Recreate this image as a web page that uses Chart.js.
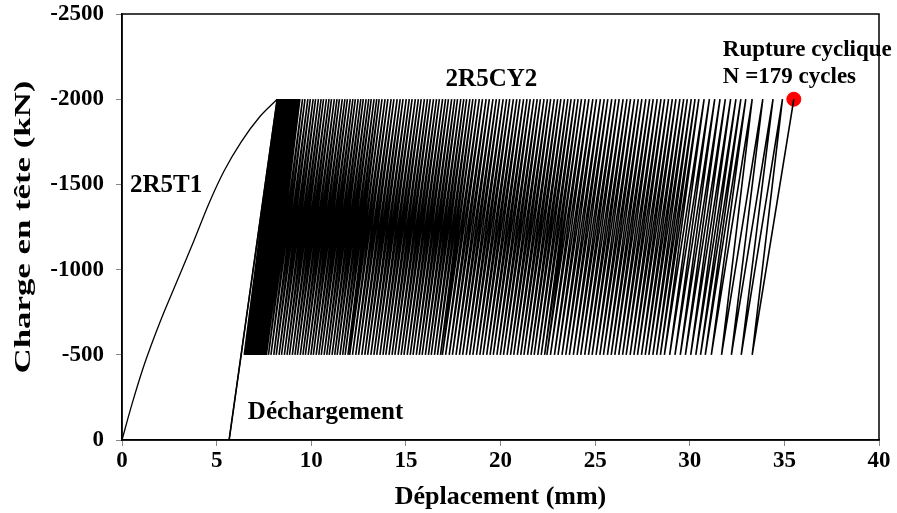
<!DOCTYPE html>
<html>
<head>
    <title>Charge - Deplacement</title>
    <script src="https://cdn.jsdelivr.net/npm/chart.js"></script>
    <style>
        body { margin: 0; background: #fff; }
    </style>
</head>
<body>
    <canvas id="chart" width="897" height="513"></canvas>
    <script>
        // essai monotone 2R5T1 (mm, kN)
        const monoX = [0, 0.5, 1.2, 2.0, 2.9, 3.8, 4.6, 5.4, 6.3, 7.3, 8.2];
        const monoY = [0, -200, -450, -690, -930, -1170, -1390, -1580, -1750, -1900, -2000];

        // dechargement
        const unloadX = [8.2, 5.66];
        const unloadY = [-2000, 0];

        // essai cyclique 2R5CY2 : pics a -2000 kN, creux a -500 kN
        const cycleTop = -2000;
        const cycleBottom = -500;
        const reloadStartX = 5.66;
        const peakX = [
            8.20, 8.23, 8.26, 8.29, 8.32, 8.35, 8.38, 8.41, 8.44, 8.47, 8.50, 8.53, 8.56, 8.59, 8.62, 8.65, 8.68, 8.71, 8.74, 8.77,
            8.80, 8.83, 8.86, 8.89, 8.92, 8.95, 8.98, 9.01, 9.04, 9.07, 9.10, 9.13, 9.16, 9.19, 9.22, 9.25, 9.28, 9.31, 9.34, 9.37, 9.40,
            9.54, 9.67, 9.82, 9.95, 10.10, 10.23, 10.38, 10.52, 10.65, 10.80, 10.94, 11.07, 11.22, 11.36, 11.49, 11.64, 11.78, 11.91,
            12.06, 12.20, 12.33, 12.48, 12.62, 12.75, 12.90, 13.04, 13.17, 13.32, 13.46, 13.59, 13.74,
            13.90, 14.05, 14.22, 14.37, 14.54, 14.70, 14.85, 15.02, 15.18, 15.33, 15.50, 15.66, 15.81, 15.98, 16.14, 16.29,
            16.46, 16.62, 16.77, 16.94, 17.10, 17.25, 17.42, 17.58, 17.73, 17.90, 18.06, 18.21, 18.38, 18.54, 18.70,
            18.88, 19.05, 19.24, 19.41, 19.60, 19.78, 19.95, 20.14, 20.32, 20.49, 20.68, 20.86, 21.03, 21.22, 21.40, 21.57,
            21.76, 21.94, 22.11, 22.30, 22.48, 22.65, 22.84, 23.02, 23.19, 23.38, 23.56, 23.73, 23.92, 24.10, 24.28,
            24.48, 24.67, 24.88, 25.07, 25.28, 25.48, 25.67, 25.88, 26.08, 26.27, 26.48, 26.68, 26.87, 27.08, 27.28, 27.47,
            27.68, 27.88, 28.07, 28.28, 28.48, 28.67, 28.88, 29.08, 29.27, 29.48, 29.68, 29.87, 30.08, 30.28, 30.48,
            30.76, 31.04, 31.32, 31.60, 31.88, 32.16, 32.44, 32.70, 32.96, 33.30, 33.86, 34.40, 34.90, 35.50
        ];
        const valleyX = [
            6.46, 6.49, 6.52, 6.55, 6.58, 6.61, 6.64, 6.67, 6.70, 6.73, 6.76, 6.79, 6.82, 6.85, 6.88, 6.91, 6.94, 6.97, 7.00, 7.03,
            7.06, 7.09, 7.12, 7.15, 7.18, 7.21, 7.24, 7.27, 7.30, 7.33, 7.36, 7.39, 7.42, 7.45, 7.48, 7.51, 7.54, 7.57, 7.60, 7.63,
            7.74, 7.87, 8.02, 8.15, 8.30, 8.43, 8.58, 8.72, 8.85, 9.00, 9.14, 9.27, 9.42, 9.56, 9.69, 9.84, 9.98, 10.11,
            10.26, 10.40, 10.53, 10.68, 10.82, 10.95, 11.10, 11.24, 11.37, 11.52, 11.66, 11.79, 11.94,
            12.03, 12.18, 12.35, 12.50, 12.67, 12.83, 12.98, 13.15, 13.31, 13.46, 13.63, 13.79, 13.94, 14.11, 14.27, 14.42,
            14.59, 14.75, 14.90, 15.07, 15.23, 15.38, 15.55, 15.71, 15.86, 16.03, 16.19, 16.34, 16.51, 16.67, 16.83,
            16.93, 17.10, 17.29, 17.46, 17.65, 17.83, 18.00, 18.19, 18.37, 18.54, 18.73, 18.91, 19.08, 19.27, 19.45, 19.62,
            19.81, 19.99, 20.16, 20.35, 20.53, 20.70, 20.89, 21.07, 21.24, 21.43, 21.61, 21.78, 21.97, 22.15, 22.33,
            22.45, 22.64, 22.85, 23.04, 23.25, 23.45, 23.64, 23.85, 24.05, 24.24, 24.45, 24.65, 24.84, 25.05, 25.25, 25.44,
            25.65, 25.85, 26.04, 26.25, 26.45, 26.64, 26.85, 27.05, 27.24, 27.45, 27.65, 27.84, 28.05, 28.25, 28.45,
            28.66, 28.94, 29.22, 29.50, 29.77, 30.05, 30.32, 30.57, 30.82, 31.14, 31.68, 32.20, 32.72, 33.30
        ];

        // rupture
        const ruptureX = [35.5];
        const ruptureY = [-2000];

        const xTicks = [0, 5, 10, 15, 20, 25, 30, 35, 40];
        const yTicks = [0, -500, -1000, -1500, -2000, -2500];

        const monoPts = monoX.map((x, i) => ({ x: x, y: monoY[i] }));
        const unloadPts = unloadX.map((x, i) => ({ x: x, y: unloadY[i] }));
        const cyclePts = [{ x: reloadStartX, y: 0 }];
        peakX.forEach((x, i) => {
            cyclePts.push({ x: x, y: cycleTop });
            if (i < valleyX.length) cyclePts.push({ x: valleyX[i], y: cycleBottom });
        });
        const rupturePts = ruptureX.map((x, i) => ({ x: x, y: ruptureY[i] }));

        const serif = "'Liberation Serif', 'Times New Roman', serif";

        // textes dans le graphe
        const labels = [
            { text: '2R5T1', x: 0.42, y: -1496, size: 25 },
            { text: '2R5CY2', x: 17.1, y: -2113, size: 25 },
            { text: 'Déchargement', x: 6.65, y: -164, size: 25 },
            { text: 'Rupture cyclique', x: 31.75, y: -2289, size: 23 },
            { text: 'N =179 cycles', x: 31.75, y: -2130, size: 23 }
        ];
        const notes = {
            id: 'notes',
            afterDatasetsDraw(chart) {
                const ctx = chart.ctx;
                const a = chart.chartArea;
                ctx.save();
                ctx.strokeStyle = '#000';
                ctx.lineWidth = 1.5;
                ctx.strokeRect(a.left, a.top, a.right - a.left, a.bottom - a.top);
                ctx.fillStyle = '#000';
                ctx.textBaseline = 'middle';
                ctx.textAlign = 'left';
                labels.forEach(l => {
                    ctx.font = 'bold ' + l.size + 'px ' + serif;
                    ctx.fillText(l.text, chart.scales.x.getPixelForValue(l.x), chart.scales.y.getPixelForValue(l.y));
                });
                // titre de l'axe vertical, etire comme dans l'original
                ctx.translate(24, (a.top + a.bottom) / 2);
                ctx.rotate(-Math.PI / 2);
                ctx.scale(1.45, 1);
                ctx.textAlign = 'center';
                ctx.font = 'bold 24px ' + serif;
                ctx.fillText('Charge en tête (kN)', 0, 0);
                ctx.restore();
            }
        };

        new Chart(document.getElementById('chart'), {
            type: 'scatter',
            data: {
                datasets: [
                    { data: monoPts, showLine: true, borderColor: '#000', borderWidth: 1.3, pointRadius: 0, tension: 0.4, cubicInterpolationMode: 'monotone' },
                    { data: unloadPts, showLine: true, borderColor: '#000', borderWidth: 1.3, pointRadius: 0 },
                    { data: cyclePts, showLine: true, borderColor: '#000', borderWidth: 1.6, pointRadius: 0, tension: 0 },
                    { data: rupturePts, showLine: false, pointRadius: 7, backgroundColor: '#ff0000', borderColor: '#ff0000' }
                ]
            },
            options: {
                responsive: false,
                animation: false,
                layout: { padding: { top: 14, right: 18, left: 0, bottom: 0 } },
                plugins: { legend: { display: false }, tooltip: { enabled: false } },
                scales: {
                    x: {
                        type: 'linear', min: 0, max: 40,
                        afterBuildTicks: s => { s.ticks = xTicks.map(v => ({ value: v })); },
                        afterFit: s => { s.height = 73; s.paddingLeft = 0; s.paddingRight = 0; },
                        ticks: { color: '#000', font: { family: serif, size: 23, weight: 'bold' }, padding: 1, maxRotation: 0 },
                        grid: { drawOnChartArea: false, tickLength: 6, color: '#888' },
                        border: { color: '#000', width: 1.5 },
                        title: { display: true, text: 'Déplacement (mm)', color: '#000', font: { family: serif, size: 26, weight: 'bold' }, padding: 0 }
                    },
                    y: {
                        type: 'linear', min: -2500, max: 0, reverse: true,
                        afterBuildTicks: s => { s.ticks = yTicks.map(v => ({ value: v })); },
                        afterFit: s => { s.width = 122; s.paddingTop = 0; s.paddingBottom = 0; },
                        ticks: { color: '#000', font: { family: serif, size: 23, weight: 'bold' }, padding: 12, callback: v => String(v) },
                        grid: { drawOnChartArea: false, tickLength: 6, color: '#888' },
                        border: { color: '#000', width: 1.5 }
                    }
                }
            },
            plugins: [notes]
        });
    </script>
</body>
</html>
